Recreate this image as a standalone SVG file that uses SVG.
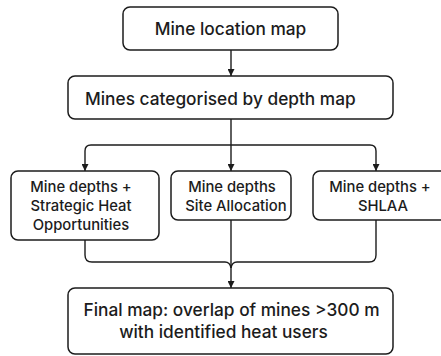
<svg xmlns="http://www.w3.org/2000/svg" width="441" height="356" viewBox="0 0 441 356">
<defs>
<marker id="ah" viewBox="0 0 10 10" refX="10" refY="5" markerWidth="7" markerHeight="7" markerUnits="userSpaceOnUse" orient="auto">
<path d="M0,0 L10,5 L0,10 z" fill="#1c1c1c"/>
</marker>
<style>
.box{fill:#fff;stroke:#1c1c1c;stroke-width:1.5}
.t{font-family:Inter,"Noto Sans","DejaVu Sans",sans-serif;fill:#1c1c1c;font-weight:500}
.big{font-size:17.3px}
.mid{font-size:14.8px}
.c{fill:none;stroke:#1c1c1c;stroke-width:1.4}
</style>
</defs>
<rect width="441" height="356" fill="#fff"/>
<g id="connectors">
<path class="c" d="M231,50 V76" marker-end="url(#ah)"/>
<path class="c" d="M231,119 V171" marker-end="url(#ah)"/>
<path class="c" d="M91,145 H370 Q376,145 376,151 V171" marker-end="url(#ah)"/>
<path class="c" d="M91,145 Q85,145 85,151 V171" marker-end="url(#ah)"/>
<path class="c" d="M85,240 V255 Q85,262 92,262 H225 Q230,262 231,268"/>
<path class="c" d="M376,220 V255 Q376,262 369,262 H237 Q232,262 231,268"/>
<path class="c" d="M231,220 V288" marker-end="url(#ah)"/>
</g>
<g id="n1">
<rect class="box" x="123" y="7" width="215" height="43" rx="7"/>
<text class="t big" x="230.5" y="35" text-anchor="middle">Mine location map</text>
</g>
<g id="n2">
<rect class="box" x="68" y="76" width="325" height="43" rx="7"/>
<text class="t big" x="85" y="105">Mines categorised by depth map</text>
</g>
<g id="n3">
<rect class="box" x="11" y="171" width="148" height="69" rx="7"/>
<text class="t mid" x="81" y="192" text-anchor="middle">Mine depths +</text>
<text class="t mid" x="81" y="211" text-anchor="middle">Strategic Heat</text>
<text class="t mid" x="81" y="229.5" text-anchor="middle">Opportunities</text>
</g>
<g id="n4">
<rect class="box" x="171" y="171" width="120" height="49" rx="7"/>
<text class="t mid" x="232" y="192" text-anchor="middle">Mine depths</text>
<text class="t mid" x="236" y="211" text-anchor="middle">Site Allocation</text>
</g>
<g id="n5">
<rect class="box" x="313" y="171" width="140" height="49" rx="7"/>
<text class="t mid" x="380" y="192" text-anchor="middle">Mine depths +</text>
<text class="t mid" x="383" y="211" text-anchor="middle">SHLAA</text>
</g>
<g id="n6">
<rect class="box" x="68" y="288" width="325" height="66" rx="7"/>
<text class="t big" x="231.5" y="316" text-anchor="middle">Final map: overlap of mines &gt;300 m</text>
<text class="t big" x="223.5" y="338" text-anchor="middle">with identified heat users</text>
</g>
</svg>
